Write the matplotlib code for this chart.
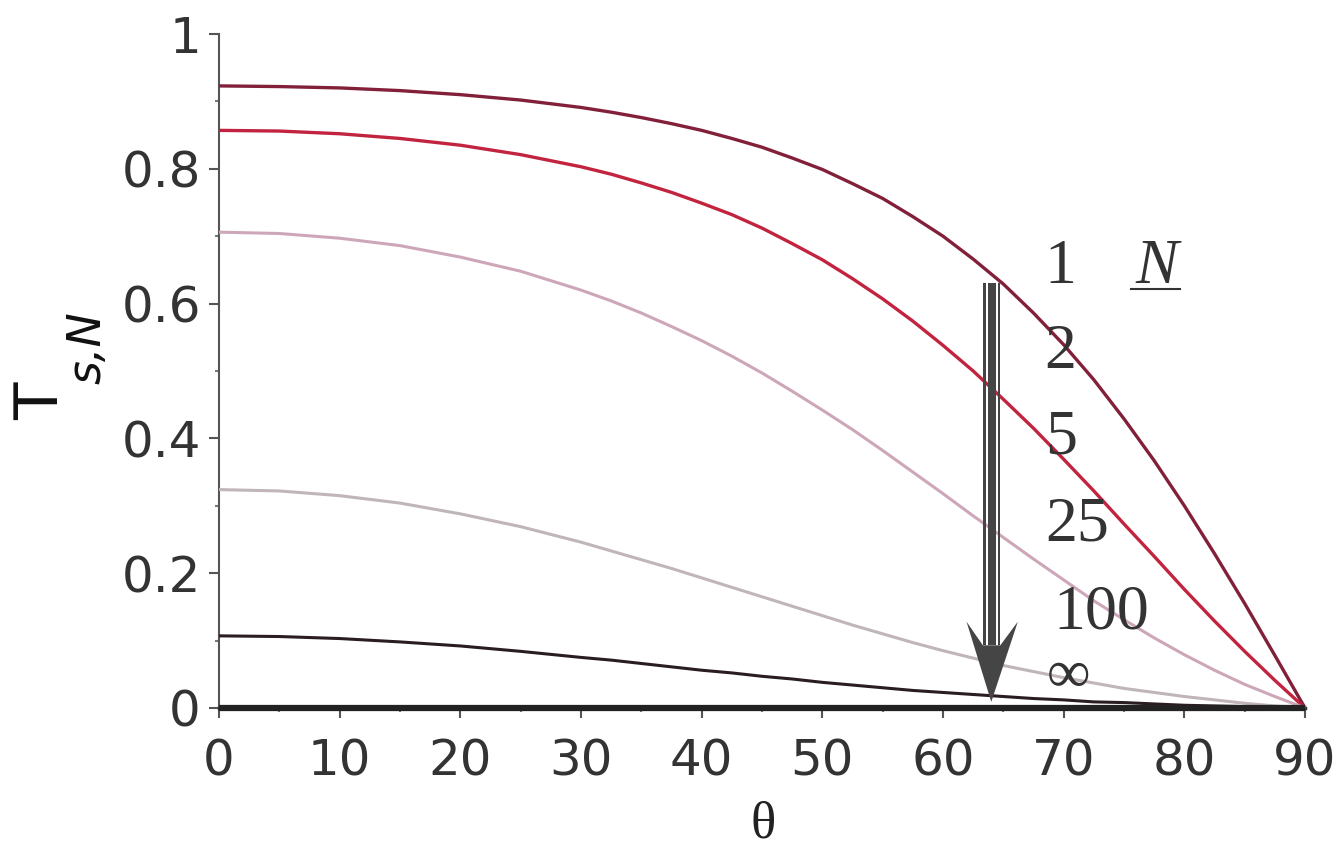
import matplotlib
matplotlib.use("Agg")
import matplotlib.pyplot as plt
from matplotlib.patches import Polygon, Rectangle
from matplotlib.ticker import MultipleLocator

# Transmission of s-polarised light through a stack of N plates vs. incidence angle
theta = [0, 5, 10, 15, 20, 25, 30, 32.5, 35, 37.5, 40, 42.5, 45, 47.5, 50, 52.5,
         55, 57.5, 60, 62.5, 65, 67.5, 70, 72.5, 75, 77.5, 80, 82.5, 85, 87.5, 90]

T_1 = [0.923, 0.922, 0.920, 0.916, 0.910, 0.902, 0.891, 0.884, 0.876, 0.867,
       0.857, 0.845, 0.832, 0.816, 0.799, 0.778, 0.756, 0.729, 0.700, 0.666,
       0.629, 0.586, 0.539, 0.487, 0.429, 0.367, 0.300, 0.229, 0.155, 0.078, 0.0]
T_2 = [0.857, 0.856, 0.852, 0.845, 0.835, 0.821, 0.803, 0.792, 0.779, 0.765,
       0.749, 0.732, 0.712, 0.689, 0.665, 0.637, 0.607, 0.574, 0.538, 0.500,
       0.458, 0.415, 0.369, 0.322, 0.273, 0.225, 0.176, 0.129, 0.084, 0.041, 0.0]
T_5 = [0.706, 0.704, 0.697, 0.686, 0.669, 0.648, 0.620, 0.604, 0.586, 0.566,
       0.545, 0.522, 0.497, 0.470, 0.442, 0.413, 0.382, 0.350, 0.318, 0.285,
       0.253, 0.221, 0.190, 0.159, 0.131, 0.104, 0.079, 0.056, 0.035, 0.017, 0.0]
T_25 = [0.324, 0.322, 0.315, 0.304, 0.288, 0.269, 0.246, 0.233, 0.220, 0.207,
        0.193, 0.179, 0.165, 0.151, 0.137, 0.123, 0.110, 0.097, 0.085, 0.074,
        0.063, 0.054, 0.045, 0.037, 0.029, 0.023, 0.017, 0.012, 0.007, 0.003, 0.0]
T_100 = [0.107, 0.106, 0.103, 0.098, 0.092, 0.084, 0.075, 0.071, 0.066, 0.061,
         0.056, 0.052, 0.047, 0.043, 0.038, 0.034, 0.030, 0.026, 0.023, 0.020,
         0.017, 0.014, 0.012, 0.009, 0.008, 0.006, 0.004, 0.003, 0.002, 0.001, 0.0]
T_inf = [0.0] * len(theta)

series = [T_1, T_2, T_5, T_25, T_100, T_inf]
n_labels = ["1", "2", "5", "25", "100", "\u221e"]
colors = ["#82203a", "#c2243f", "#cda7b9", "#bfb5bb", "#2a1d21", "#222222"]
widths = [2.4, 2.4, 2.2, 2.2, 2.2, 4.5]

y_ticks = [0, 0.2, 0.4, 0.6, 0.8, 1.0]
y_ticklabels = ["0", "0.2", "0.4", "0.6", "0.8", "1"]
x_ticks = [0, 10, 20, 30, 40, 50, 60, 70, 80, 90]

fig = plt.figure(figsize=(13.43, 8.5), dpi=100)
ax = fig.add_axes([0.1631, 0.1671, 0.8086, 0.7929])
ax.set_xlim(0, 90)
ax.set_ylim(0, 1)

for ys, c, lw in zip(series, colors, widths):
    ax.plot(theta, ys, color=c, lw=lw, clip_on=False, solid_capstyle="butt", zorder=3)

for side in ("top", "right"):
    ax.spines[side].set_visible(False)
ax.spines["left"].set_color("#555555")
ax.spines["left"].set_linewidth(1.5)
ax.spines["bottom"].set_color("#333333")
ax.spines["bottom"].set_linewidth(2.5)

ax.set_xticks(x_ticks)
ax.set_yticks(y_ticks)
ax.set_yticklabels(y_ticklabels)
ax.xaxis.set_minor_locator(MultipleLocator(5))
ax.yaxis.set_minor_locator(MultipleLocator(0.1))
ax.tick_params(which="major", direction="out", length=7, width=1.5,
               color="#555555", labelsize=36, labelcolor="#333333")
ax.tick_params(axis="x", which="major", pad=14)
ax.tick_params(axis="y", which="major", pad=6)
ax.tick_params(which="minor", direction="out", length=3, width=1.5, color="#777777")

# axis titles
fig.text(42 / 1343, 1 - 401 / 850, "T", rotation=90, fontsize=44,
         ha="center", va="center", color="#111111")
fig.text(88 / 1343, 1 - 348 / 850, "s,N", rotation=90, fontsize=33,
         style="italic", ha="center", va="center", color="#111111")
fig.text(763 / 1343, 1 - 838 / 850, "\u03b8", fontsize=38,
         family="Liberation Serif", ha="center", va="baseline", color="#222222")

# curve labels (N values)
serif = "Liberation Serif"
label_pos = [(69.7, 0.631), (69.7, 0.505), (69.8, 0.378), (71.1, 0.249), (73.1, 0.1185)]
for txt, (lx, ly) in zip(n_labels[:5], label_pos):
    ax.text(lx, ly, txt, fontsize=46, family=serif, ha="center", va="baseline",
            color="#333333", zorder=4)
ax.text(70.4, 0.046, n_labels[5], fontsize=44, family=serif, ha="center",
        va="center", color="#333333", zorder=4)
ax.text(77.7, 0.631, "N", fontsize=46, family=serif, style="italic",
        ha="center", va="baseline", color="#333333")
ax.plot([75.6, 79.6], [0.622, 0.622], color="#333333", lw=1.5)

# arrow showing increasing N
arrow_x = 64.0
arrow_top = 0.63
arrow_join = 0.093
arrow_color = "#454545"
for x0, x1 in [(63.32, 63.60), (63.71, 64.37), (64.54, 64.76)]:
    ax.add_patch(Rectangle((x0, arrow_join), x1 - x0, arrow_top - arrow_join,
                           color=arrow_color, lw=0, zorder=5))
head = [(61.95, 0.128), (63.3, arrow_join), (64.75, arrow_join), (66.2, 0.128),
        (arrow_x, 0.009)]
ax.add_patch(Polygon(head, closed=True, color=arrow_color, lw=0, zorder=5))

fig.savefig("out.png", dpi=100, facecolor="white")
